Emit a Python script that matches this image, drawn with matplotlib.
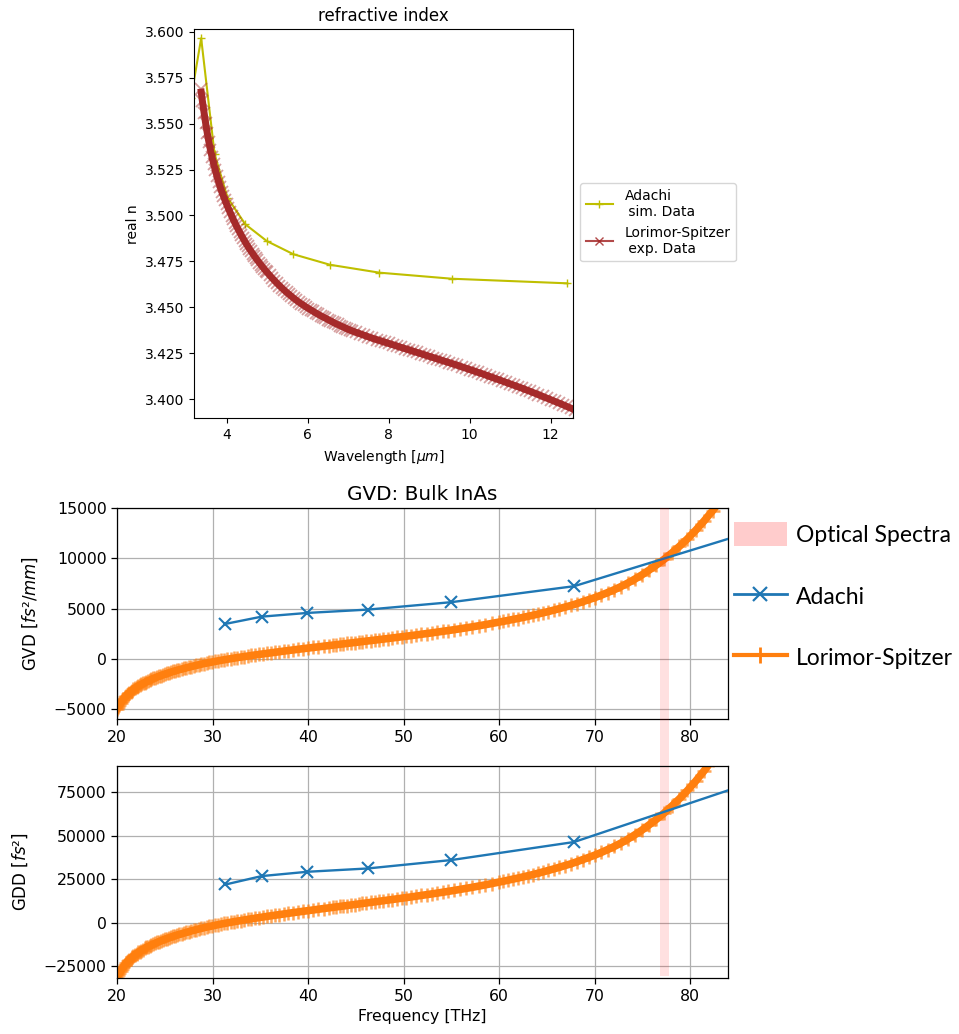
import numpy as np
import matplotlib
matplotlib.use('Agg')
import matplotlib.pyplot as plt
from matplotlib.lines import Line2D
from matplotlib.patches import Patch
from matplotlib.ticker import MultipleLocator

# ---------------- data: refractive index (top panel) ----------------
adachi_wl = [3.12, 3.37, 3.70, 4.02, 4.46, 4.99, 5.65, 6.55, 7.77, 9.56, 12.41]
adachi_n = [3.5640, 3.5964, 3.5335, 3.5097, 3.4952, 3.4861, 3.4789, 3.4732, 3.4689, 3.4656, 3.4631]

lor_wl = [3.36, 3.40, 3.44, 3.48, 3.52, 3.56, 3.60, 3.64, 3.68, 3.72, 3.76, 3.80, 3.84, 3.88,
          3.92, 3.96, 4.00, 4.04, 4.08, 4.12, 4.16, 4.20, 4.24, 4.28, 4.32, 4.36, 4.40, 4.44,
          4.48, 4.52, 4.56, 4.60, 4.64, 4.68, 4.72, 4.76, 4.80, 4.84, 4.88, 4.92, 4.96, 5.00,
          5.06, 5.12, 5.18, 5.24, 5.30, 5.36, 5.42, 5.48, 5.54, 5.60, 5.66, 5.72, 5.78, 5.84,
          5.90, 5.96, 6.02, 6.08, 6.14, 6.20, 6.26, 6.32, 6.38, 6.44, 6.50, 6.56, 6.62, 6.68,
          6.74, 6.80, 6.86, 6.92, 6.98, 7.04,
          7.1, 7.2, 7.3, 7.4, 7.5, 7.6, 7.7, 7.8, 7.9, 8.0, 8.1, 8.2, 8.3, 8.4, 8.5, 8.6, 8.7,
          8.8, 8.9, 9.0, 9.1, 9.2, 9.3, 9.4, 9.5, 9.6, 9.7, 9.8, 9.9, 10.0, 10.1, 10.2, 10.3,
          10.4, 10.5, 10.6, 10.7, 10.8, 10.9, 11.0, 11.1, 11.2, 11.3, 11.4, 11.5, 11.6, 11.7,
          11.8, 11.9, 12.0, 12.1, 12.2, 12.3, 12.4, 12.5, 12.6, 12.7, 12.8, 12.9, 13.0, 13.1,
          13.2, 13.3, 13.4, 13.5, 13.6, 13.7, 13.8, 13.9, 14.0, 14.1, 14.2, 14.3, 14.4, 14.5,
          14.6, 14.7, 14.8, 14.9, 15.0]

lor_n = [3.5690, 3.5622, 3.5560, 3.5502, 3.5449, 3.5400, 3.5356, 3.5316, 3.5279, 3.5245,
         3.5213, 3.5183, 3.5155, 3.5129, 3.5105, 3.5082, 3.5060, 3.5039, 3.5019, 3.4999,
         3.4980, 3.4961, 3.4943, 3.4926, 3.4909, 3.4893, 3.4877, 3.4862, 3.4847, 3.4833,
         3.4819, 3.4806, 3.4793, 3.4780, 3.4768, 3.4756, 3.4744, 3.4733, 3.4722, 3.4711,
         3.4700, 3.4690,
         3.4675, 3.4660, 3.4646, 3.4632, 3.4619, 3.4606, 3.4594, 3.4582, 3.4571, 3.4560,
         3.4549, 3.4539, 3.4529, 3.4520, 3.4511, 3.4502, 3.4494, 3.4486, 3.4478, 3.4470,
         3.4462, 3.4455, 3.4448, 3.4441, 3.4434, 3.4427, 3.4420, 3.4413, 3.4407, 3.4401,
         3.4395, 3.4389, 3.4383, 3.4377,
         3.4372, 3.4364, 3.4356, 3.4348, 3.4340, 3.4332, 3.4325, 3.4318, 3.4311, 3.4304,
         3.4297, 3.4290, 3.4283, 3.4276, 3.4269, 3.4262, 3.4255, 3.4248, 3.4241, 3.4234,
         3.4227, 3.4220, 3.4213, 3.4206, 3.4199, 3.4192, 3.4185, 3.4177, 3.4170, 3.4162,
         3.4155, 3.4147, 3.4140, 3.4132, 3.4124, 3.4116, 3.4108, 3.4100, 3.4092, 3.4084,
         3.4076, 3.4068, 3.4060, 3.4051, 3.4043, 3.4034, 3.4025, 3.4016, 3.4007, 3.3998,
         3.3989, 3.3980, 3.3971, 3.3961, 3.3952, 3.3942, 3.3932, 3.3922, 3.3912, 3.3901,
         3.3890, 3.3879, 3.3868, 3.3857, 3.3845, 3.3833, 3.3821, 3.3809, 3.3797, 3.3784,
         3.3771, 3.3758, 3.3745, 3.3731, 3.3717, 3.3703, 3.3689, 3.3675, 3.3660, 3.3645]

# ---------------- data: GVD / GDD (bottom panels) ----------------
adachi_freq = [31.36, 35.15, 39.93, 46.23, 55.0, 67.86, 88.4]
adachi_gvd = [3490, 4210, 4580, 4910, 5650, 7240, 13240]
adachi_gdd = [21890, 26730, 29200, 31100, 35940, 46310, 84130]

lor_gvd = [25800, 23730, 21850, 20120, 18570, 17130, 15890, 14750, 13730, 12800,
           11960, 11210, 10530, 9900, 9350, 8840, 8360, 7940, 7550, 7200,
           6890, 6610, 6350, 6110, 5900, 5700, 5500, 5320, 5160, 5010,
           4860, 4720, 4590, 4460, 4340, 4230, 4130, 4020, 3930, 3830, 3740, 3660,
           3531, 3412, 3299, 3195, 3096, 3002, 2913, 2829, 2747, 2670,
           2596, 2524, 2456, 2389, 2325, 2263, 2203, 2145, 2088, 2032,
           1978, 1927, 1875, 1825, 1776, 1728, 1682, 1636, 1591, 1547,
           1503, 1461, 1419, 1378,
           1337, 1271, 1206, 1142, 1079, 1019, 958, 899, 841, 782,
           726, 670, 615, 560, 505, 451, 397, 344, 290, 238,
           186, 134, 81, 27, -25, -78, -131, -187, -241, -294,
           -351, -406, -459, -517, -579, -638, -696, -758, -820, -880,
           -938, -1000, -1062, -1122, -1182, -1248, -1314, -1377, -1443, -1507,
           -1577, -1650, -1720, -1787, -1859, -1940, -2018, -2099, -2177, -2254,
           -2345, -2437, -2528, -2620, -2707, -2798, -2910, -3030, -3150, -3280,
           -3400, -3520, -3660, -3810, -3980, -4180, -4370, -4550, -4760, -4970]

lor_gdd = [163830, 150690, 138750, 127760, 117920, 108780, 100900, 93660, 87190, 81280,
           75950, 71180, 66870, 62870, 59370, 56130, 53090, 50420, 47940, 45720,
           43750, 41970, 40320, 38800, 37470, 36200, 34930, 33780, 32770, 31810,
           30860, 29970, 29150, 28320, 27560, 26860, 26230, 25530, 24960, 24320, 23750, 23240,
           22420, 21670, 20950, 20290, 19660, 19060, 18500, 17960, 17440, 16950,
           16480, 16030, 15600, 15170, 14760, 14370, 13990, 13620, 13260, 12900,
           12560, 12240, 11910, 11590, 11280, 10970, 10680, 10390, 10100, 9820,
           9540, 9280, 9010, 8750,
           8490, 8070, 7660, 7250, 6850, 6470, 6080, 5710, 5340, 4970,
           4610, 4250, 3910, 3560, 3210, 2860, 2520, 2180, 1840, 1510,
           1180, 850, 510, 170, -160, -500, -830, -1190, -1530, -1870,
           -2230, -2580, -2910, -3280, -3680, -4050, -4420, -4810, -5210, -5590,
           -5960, -6350, -6740, -7120, -7510, -7920, -8340, -8740, -9160, -9570,
           -10010, -10480, -10920, -11350, -11800, -12320, -12810, -13330, -13820, -14310,
           -14890, -15470, -16050, -16640, -17190, -17770, -18480, -19240, -20000, -20830,
           -21590, -22350, -23240, -24190, -25270, -26540, -27750, -28890, -30230, -31560]

optical_band = [76.9, 77.8]      # THz
C_UM_THZ = 299.792               # c in um*THz (unit conversion)

for name, arr in [('lor_n', lor_n), ('lor_gvd', lor_gvd), ('lor_gdd', lor_gdd)]:
    if len(arr) != len(lor_wl):
        raise ValueError(f'{name} has {len(arr)} values, lor_wl has {len(lor_wl)}')

lor_freq = C_UM_THZ / np.array(lor_wl)

# ---------------- figure ----------------
fig = plt.figure(figsize=(9.59, 10.34), dpi=100)

# top: refractive index
ax0 = fig.add_axes([0.2026, 0.5955, 0.3952, 0.3762])
ax0.plot(adachi_wl, adachi_n, color='y', marker='+', lw=1.5, ms=6)
ax0.plot(lor_wl, lor_n, color='brown', lw=5.0, solid_capstyle='butt')
ax0.plot(lor_wl, lor_n, color='brown', ls='none', marker='x', ms=8.5, mew=1.3, alpha=0.45)
ax0.set_xlim(3.2, 12.56)
ax0.set_ylim(3.3897, 3.6013)
ax0.set_title('refractive index', fontsize=12)
ax0.set_xlabel(r'Wavelength [$\mu m$]', fontsize=10)
ax0.set_ylabel('real n', fontsize=10)
ax0.tick_params(labelsize=10)
top_handles = [Line2D([], [], color='y', marker='+', lw=1.5, ms=6),
               Line2D([], [], color='brown', alpha=0.85, marker='x', lw=1.5, ms=6)]
ax0.legend(top_handles, ['Adachi\n sim. Data', 'Lorimor-Spitzer\n exp. Data'],
           loc='upper left', bbox_to_anchor=(0.6048, 0.823),
           bbox_transform=fig.transFigure, borderaxespad=0, fontsize=10)

# bottom: GVD and GDD
fs = 11.3
ax1 = fig.add_axes([0.122, 0.3044, 0.6374, 0.2041])
ax2 = fig.add_axes([0.122, 0.0539, 0.6374, 0.2053])

for ax, a_vals, l_vals in [(ax1, adachi_gvd, lor_gvd), (ax2, adachi_gdd, lor_gdd)]:
    ax.plot(lor_freq, l_vals, color='C1', lw=5.5, zorder=2)
    ax.plot(lor_freq, l_vals, color='C1', ls='none', marker='+', ms=10.5, mew=1.8,
            alpha=0.7, zorder=2)
    ax.plot(adachi_freq, a_vals, color='C0', marker='x', lw=1.7, ms=8, mew=1.5, zorder=3)
    ax.grid(True, color='#b0b0b0', lw=0.9)
    ax.set_axisbelow(True)
    ax.set_xlim(20, 84)
    ax.tick_params(labelsize=fs, width=0.9, length=4)
    for s in ax.spines.values():
        s.set_linewidth(0.9)

ax1.set_ylim(-6000, 15000)
ax1.yaxis.set_major_locator(MultipleLocator(5000))
ax1.set_title('GVD: Bulk InAs', fontsize=14.4)
ax1.set_ylabel('GVD [$fs²/mm$]', fontsize=12, labelpad=10)

ax2.set_ylim(-32000, 90000)
ax2.yaxis.set_major_locator(MultipleLocator(25000))
ax2.set_ylabel('GDD [$fs²$]', fontsize=12, labelpad=10)
ax2.set_xlabel('Frequency [THz]', fontsize=fs)

# optical spectra band spanning both panels
ax2.axvspan(optical_band[0], optical_band[1], ymin=0.012, ymax=2.214,
            color='red', alpha=0.12, lw=0, clip_on=False, zorder=1)
ax2.set_xlim(20, 84)

handles = [Patch(facecolor='#ffcccc', edgecolor='none'),
           Line2D([], [], color='C0', marker='x', lw=2, ms=10, mew=1.6),
           Line2D([], [], color='C1', marker='+', lw=3, ms=11, mew=2)]
fig.legend(handles, ['Optical Spectra', 'Adachi', 'Lorimor-Spitzer'],
           loc='upper left', bbox_to_anchor=(0.7654, 0.4952), frameon=False,
           prop={'family': 'Lato', 'size': 16.5}, handlelength=2.3, handleheight=1.27,
           labelspacing=1.62, handletextpad=0.4, borderpad=0, borderaxespad=0)

fig.savefig('out.png', dpi=100)
